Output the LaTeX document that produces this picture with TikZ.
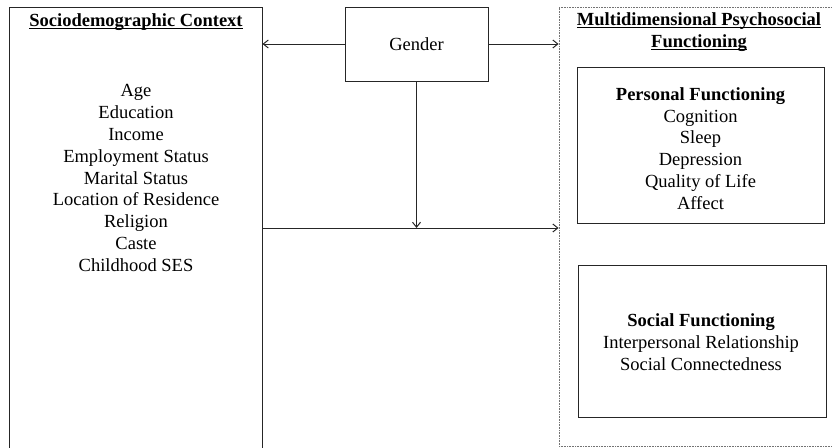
\documentclass[tikz,border=0pt]{standalone}
\usepackage{fontspec}
\setmainfont{Liberation Serif}
\usetikzlibrary{arrows.meta}
\newcommand\myul[1]{\setbox0\hbox{#1}\rlap{\rule[-3pt]{\wd0}{1.2pt}}\box0}
\begin{document}
\begin{tikzpicture}[x=1pt,y=-1pt,
  box/.style={draw=black!85, line width=1pt, minimum width=#1, inner sep=0pt},
  dotbox/.style={draw=black!55, line width=0.8pt, dash pattern=on 1pt off 0.6pt, inner sep=0pt},
  txt/.style={align=center, font=\fontsize{18.5}{21.8}\selectfont, inner sep=0pt},
  conn/.style={draw=black!85, line width=1pt, -{Straight Barb[length=5pt,width=8pt]}}
]
\clip (0,0) rectangle (832,447);
\fill[white] (0,0) rectangle (832,447);
% boxes
\node[box=253pt, minimum height=463pt] (sdc) at (135.5,238.5) {};
\node[box=143pt, minimum height=74pt] (gender) at (416.5,44) {};
\node[dotbox, minimum width=321pt, minimum height=439pt] (mpf) at (719.5,226.5) {};
\node[box=247pt, minimum height=156pt] (pf) at (700.5,145) {};
\node[box=248pt, minimum height=152pt] (sf) at (702,341) {};
% texts
\node[txt] (sdch) at (136,22) {\myul{\textbf{Sociodemographic Context}}};
\node[txt] (sdcl) at (136,178) {Age\\Education\\Income\\Employment Status\\Marital Status\\Location of Residence\\Religion\\Caste\\Childhood SES};
\node[txt] (gt) at (gender.center) {Gender};
\node[txt] (mpfh) at (699,32) {\myul{\textbf{Multidimensional Psychosocial}}\\\myul{\textbf{Functioning}}};
\node[txt] (pfl) at (700.5,148.5) {\textbf{Personal Functioning}\\Cognition\\Sleep\\Depression\\Quality of Life\\Affect};
\node[txt] (sfl) at (701,342) {\textbf{Social Functioning}\\Interpersonal Relationship\\Social Connectedness};
% connectors
\coordinate (j) at (416.5,228);
\draw[conn] (gender.west) -- (gender.west -| sdc.east);
\draw[conn] (gender.east) -- (gender.east -| mpf.west);
\draw[conn] (gender.south) -- (j);
\draw[conn] (j -| sdc.east) -- (j -| mpf.west);
\end{tikzpicture}
\end{document}
